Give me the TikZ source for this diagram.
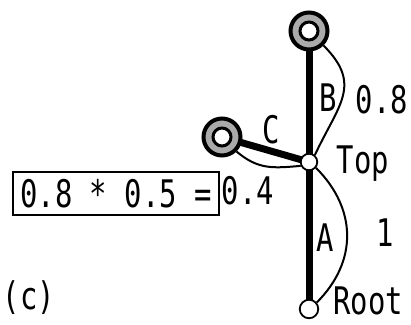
\documentclass[tikz,border=0pt]{standalone}
\usepackage{fontspec}
\setmainfont{DejaVu Sans Mono}[FakeStretch=0.76]
\usetikzlibrary{backgrounds}
\definecolor{leafgray}{RGB}{170,170,170}
\begin{document}
\begin{tikzpicture}[x=1pt,y=1pt,
  thickedge/.style={line width=7pt},
  arcline/.style={line width=2pt},
  leaf/.style={circle,draw,line width=4pt,fill=leafgray,minimum size=37pt,inner sep=0pt},
  leafin/.style={circle,draw,line width=3pt,fill=white,minimum size=18pt,inner sep=0pt},
  joint/.style={circle,draw,line width=1.8pt,fill=white,inner sep=0pt},
  lbl/.style={inner sep=0pt,font=\fontsize{38}{42}\selectfont}]
\useasboundingbox (0,0) rectangle (411,324);
\node[leaf] (B) at (309,293) {};
\node[leafin] (Bin) at (B) {};
\node[leaf] (C) at (222,187) {};
\node[leafin] (Cin) at (C) {};
\node[joint,minimum size=16.5pt] (top) at (309,162) {};
\node[joint,minimum size=18.5pt] (root) at (309,15) {};
\begin{scope}[on background layer]
\draw[thickedge] (root.center) -- (top.center);
\draw[thickedge] (top.center) -- (B.center);
\draw[thickedge] (top.center) -- (C.center);
\end{scope}
\draw[arcline] (B.-45) to[out=-45,in=65,looseness=1.3] (top.50);
\draw[arcline] (top.-40) to[out=-45,in=45,looseness=1.1] (root.40);
\draw[arcline] (C.-45) to[out=-40,in=185,looseness=1.1] (top.205);
\node[lbl] (lB) at (328,226) {B};
\node[lbl] (lB8) at (382,224) {0.8};
\node[lbl] (lC) at (271,194) {C};
\node[lbl] (lTop) at (363,160) {Top};
\node[lbl] (lA) at (325,86) {A};
\node[lbl] (lA1) at (385,91) {1};
\node[lbl] (lRoot) at (368,23) {Root};
\node[lbl,draw,line width=1.4pt,minimum width=206pt,minimum height=43pt] (box) at (116,130.5) {0.8 * 0.5 =};
\node[lbl] (res) at (248,133) {0.4};
\node[lbl] (lc) at (29,26) {(c)};
\end{tikzpicture}
\end{document}
